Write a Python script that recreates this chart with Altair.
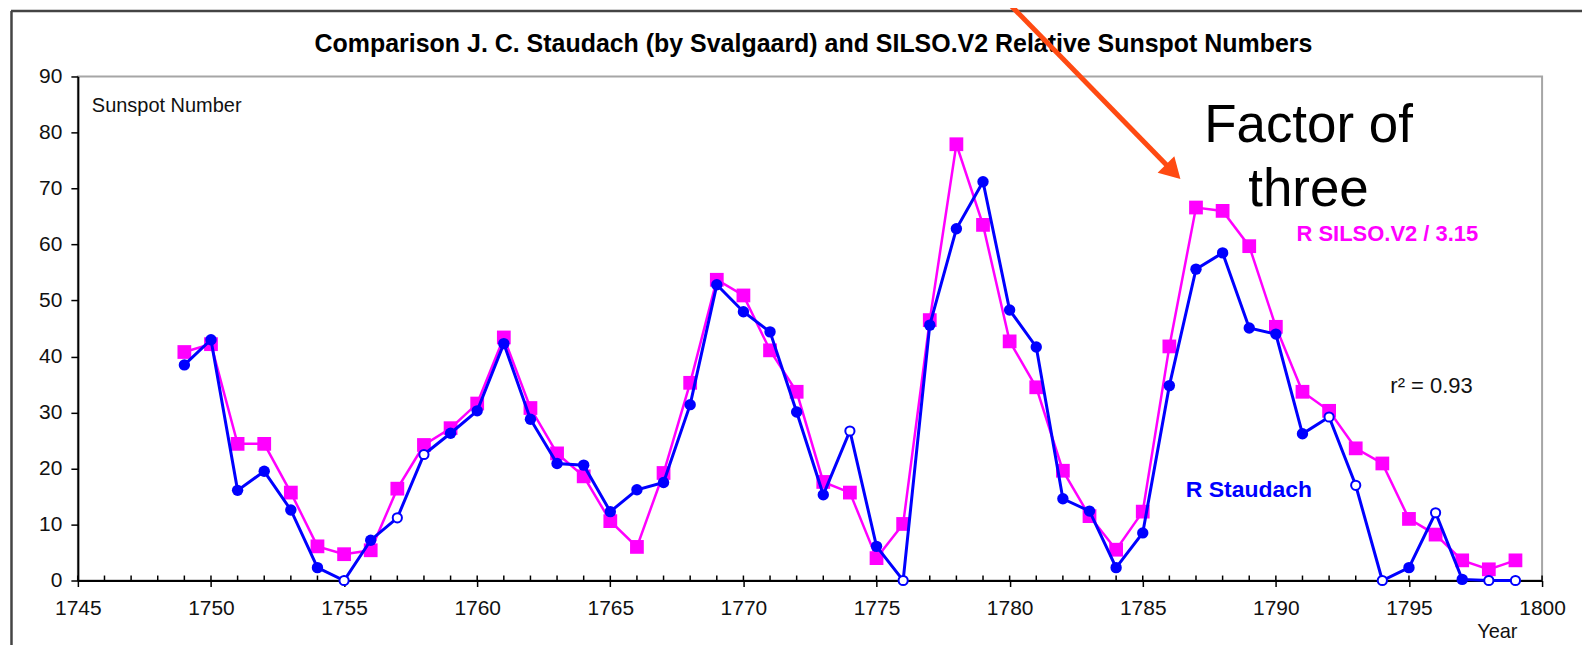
import altair as alt
import pandas as pd

# ---------------- data ----------------
years = list(range(1749, 1800))
staudach = [38.5, 43.0, 16.1, 19.5, 12.6, 2.3, 0.0, 7.2, 11.2, 22.5,
            26.3, 30.3, 42.3, 28.8, 20.9, 20.6, 12.3, 16.2, 17.5, 31.4,
            52.8, 48.0, 44.4, 30.1, 15.3, 26.7, 6.1, 0.0, 45.6, 62.8,
            71.2, 48.3, 41.7, 14.6, 12.4, 2.3, 8.5, 34.8, 55.6, 58.5,
            45.1, 44.0, 26.2, 29.2, 17.0, 0.0, 2.3, 12.1, 0.2, 0.0, 0.0]
silso_v2 = [40.8, 42.2, 24.4, 24.4, 15.7, 6.1, 4.7, 5.4, 16.4, 24.2,
            27.2, 31.6, 43.4, 30.8, 22.7, 18.6, 10.6, 6.0, 19.2, 35.3,
            53.7, 50.9, 41.1, 33.7, 17.6, 15.7, 4.0, 10.1, 46.5, 77.9,
            63.5, 42.7, 34.5, 19.6, 11.5, 5.5, 12.3, 41.8, 66.6, 66.0,
            59.7, 45.3, 33.7, 30.3, 23.6, 20.9, 11.0, 8.2, 3.6, 2.0, 3.6]
open_years = [1755, 1757, 1758, 1774, 1776, 1792, 1793, 1794, 1796, 1798, 1799]

x_ticks = [1745, 1750, 1755, 1760, 1765, 1770, 1775, 1780, 1785, 1790, 1795, 1800]
y_ticks = [0, 10, 20, 30, 40, 50, 60, 70, 80, 90]
minor_years = list(range(1745, 1801))

title_text = "Comparison J. C. Staudach (by Svalgaard) and SILSO.V2 Relative Sunspot Numbers"

# ---------------- tables ----------------
df = pd.DataFrame({"year": years, "staudach": staudach, "silso": silso_v2})
df["open"] = df["year"].isin(open_years)
minor_df = pd.DataFrame({"year": minor_years})

FONT = "Liberation Sans"
W, H = 1467, 505
BLUE = "#0000FF"
MAG = "#FF00FF"

xs = alt.Scale(domain=[1745, 1800], nice=False, zero=False)
ys = alt.Scale(domain=[0, 90], nice=False, zero=True)
xaxis = alt.Axis(values=x_ticks, format="d", title=None, grid=False,
                 labelFontSize=21, labelFont=FONT, labelColor="#111111",
                 tickSize=6, tickWidth=1.5, tickColor="#000000",
                 domainColor="#000000", domainWidth=2, labelPadding=11,
                 labelFlush=False, labelOverlap=False)
yaxis = alt.Axis(values=y_ticks, title=None, grid=False,
                 labelFontSize=21, labelFont=FONT, labelColor="#111111",
                 tickSize=7, tickWidth=1.5, tickColor="#000000",
                 domainColor="#000000", domainWidth=2, labelPadding=9,
                 labelFlush=False, labelOverlap=False)

base = alt.Chart(df)
X = alt.X("year:Q", scale=xs, axis=xaxis)

mag_line = base.mark_line(color=MAG, strokeWidth=2.5).encode(
    x=X, y=alt.Y("silso:Q", scale=ys, axis=yaxis))
mag_pts = base.mark_point(shape="square", filled=True, color=MAG, size=190, opacity=1).encode(
    x=X, y=alt.Y("silso:Q", scale=ys, axis=yaxis))
blue_line = base.mark_line(color=BLUE, strokeWidth=3).encode(
    x=X, y=alt.Y("staudach:Q", scale=ys, axis=yaxis))
blue_full = base.transform_filter("!datum.open").mark_point(
    shape="circle", filled=True, color=BLUE, size=130, opacity=1).encode(
    x=X, y=alt.Y("staudach:Q", scale=ys, axis=yaxis))
blue_open = base.transform_filter("datum.open").mark_point(
    shape="circle", filled=True, fill="white", stroke=BLUE, strokeWidth=2, size=85, opacity=1).encode(
    x=X, y=alt.Y("staudach:Q", scale=ys, axis=yaxis))

minor_ticks = alt.Chart(minor_df).mark_rule(color="#000000", strokeWidth=1.5).encode(
    x=alt.X("year:Q", scale=xs, axis=xaxis), y=alt.value(H), y2=alt.value(H - 5))


def txt(s, x, y, size, color="#000000", weight="normal", align="left"):
    return alt.Chart(pd.DataFrame({"t": [s]})).mark_text(
        font=FONT, fontSize=size, fontWeight=weight, color=color,
        align=align, baseline="alphabetic").encode(
        text="t:N", x=alt.value(x), y=alt.value(y))


def rule(x1, y1, x2, y2, color, width):
    return alt.Chart(pd.DataFrame({"k": [0]})).mark_rule(
        color=color, strokeWidth=width).encode(
        x=alt.value(x1), y=alt.value(y1), x2=alt.value(x2), y2=alt.value(y2))


title = txt(title_text, 737, -25, 25, "#000000", "bold", "center")
ylabel = txt("Sunspot Number", 14, 36, 20, "#111111")
xlabel = txt("Year", 1402, 563, 20, "#111111")
silso_lab = txt("R SILSO.V2 / 3.15", 1221, 165, 22, MAG, "bold")
staud_lab = txt("R Staudach", 1110, 421, 23, BLUE, "bold")
r2_lab = txt("r² = 0.93", 1315, 317, 22, "#111111")
factor1 = txt("Factor of", 1233, 66, 53, "#000000", "normal", "center")
factor2 = txt("three", 1233, 130, 53, "#000000", "normal", "center")

frame_top = rule(-67, -65.5, 1520, -65.5, "#444444", 2.5)
frame_left = rule(-66.5, -65.5, -66.5, 590, "#444444", 2.5)

ARROW = "#FF4A12"
arrow_line = rule(930, -76, 1092, 90, ARROW, 5)
arrow_head = alt.Chart(pd.DataFrame({"k": [0]})).mark_point(
    shape="triangle", filled=True, color=ARROW, opacity=1, size=560, angle=135).encode(
    x=alt.value(1095), y=alt.value(93))

chart = alt.layer(
    frame_top, frame_left, minor_ticks,
    mag_line, mag_pts, blue_line, blue_full, blue_open,
    title, ylabel, xlabel, silso_lab, staud_lab, r2_lab, factor1, factor2,
    arrow_line, arrow_head,
).properties(
    width=W, height=H,
    padding={"left": 70, "top": 68, "right": 40, "bottom": 64},
    autosize=alt.AutoSizeParams(type="none"),
    background="white",
).configure_view(stroke="#a6a6a6", strokeWidth=2)

chart.save("out.html", embed_options={"renderer": "svg", "actions": False})
